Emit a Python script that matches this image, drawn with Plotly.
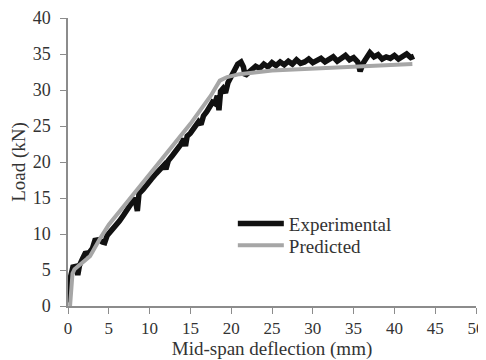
import plotly.graph_objects as go

exp_x = [0, 0.15, 0.3, 0.6, 1.0, 1.2, 1.4, 1.8, 2.1, 2.6, 3.0, 3.3, 3.8, 4.2, 4.5, 4.8, 5.2, 5.8, 6.3, 6.8, 7.3, 7.8, 8.2, 8.5, 8.7, 9.2, 9.7, 10.2, 10.8, 11.3, 11.8, 12.0, 12.3, 12.8, 13.3, 13.8, 14.2, 14.4, 14.6, 15.0, 15.5, 16.0, 16.3, 16.6, 17.0, 17.4, 17.7, 18.0, 18.3, 18.5, 18.7, 19.0, 19.3, 19.6, 20.0, 20.4, 20.8, 21.2, 21.5, 21.7, 22.0, 22.5, 23.0, 23.5, 24.0, 24.5, 25.0, 25.5, 26.0, 26.5, 27.0, 27.5, 28.0, 28.5, 29.0, 29.5, 30.0, 30.5, 31.0, 31.5, 32.0, 32.5, 33.0, 33.5, 34.0, 34.5, 35.0, 35.5, 35.8, 36.2, 36.5, 37.0, 37.5, 38.0, 38.5, 39.0, 39.5, 40.0, 40.5, 41.0, 41.5, 42.0, 42.4]
exp_y = [0.5, 2.5, 4.0, 5.4, 5.5, 4.3, 5.6, 6.6, 7.3, 7.4, 8.0, 9.1, 9.2, 8.9, 8.8, 9.8, 10.3, 11.1, 11.8, 12.6, 13.4, 14.5, 15.0, 13.2, 15.6, 16.2, 16.8, 17.6, 18.4, 19.1, 19.6, 19.0, 20.2, 20.9, 21.6, 22.4, 23.2, 22.2, 23.6, 24.0, 24.8, 25.6, 25.2, 26.4, 27.0, 27.8, 28.3, 28.1, 29.2, 27.2, 29.8, 30.2, 29.6, 31.0, 32.0, 32.8, 33.6, 33.9, 33.2, 32.0, 32.4, 32.8, 33.3, 33.0, 33.6, 33.2, 33.8, 33.4, 33.9, 33.5, 34.0, 33.6, 34.2, 33.7, 33.9, 34.3, 33.8, 34.0, 34.4, 33.9, 34.2, 34.6, 34.0, 34.4, 34.8, 34.2, 34.5, 33.9, 32.6, 33.8, 34.4, 35.2, 34.6, 34.9, 34.3, 34.6, 34.4, 34.8, 34.3, 34.7, 35.0, 34.5, 34.7]

pred_x = [0.25, 0.35, 0.55, 0.8, 1.2, 2.0, 2.7, 4.0, 5.0, 7.5, 10, 12.5, 15, 17.5, 18.6, 19.5, 21, 25, 30, 35, 42.2]
pred_y = [0, 2.5, 4.5, 5.1, 5.5, 6.2, 6.9, 9.5, 11.3, 14.8, 18.3, 21.8, 25.3, 29.2, 31.3, 31.8, 32.2, 32.7, 33.0, 33.3, 33.6]

x_ticks = [0, 5, 10, 15, 20, 25, 30, 35, 40, 45, 50]
y_ticks = [0, 5, 10, 15, 20, 25, 30, 35, 40]

fam = "Liberation Serif"
ytick_font = dict(family=fam, size=18, color="#333333")
xtick_font = dict(family=fam, size=17, color="#333333")
title_font = dict(family=fam, size=19, color="#333333")

fig = go.Figure()
fig.add_trace(go.Scatter(x=exp_x, y=exp_y, mode="lines", name="Experimental",
                         line=dict(color="#111111", width=5.5), legend="legend"))
fig.add_trace(go.Scatter(x=pred_x, y=pred_y, mode="lines", name="Predicted",
                         line=dict(color="#a6a6a6", width=4), legend="legend2"))

axis_common = dict(showgrid=False, zeroline=False, showline=True, linecolor="#8c8c8c",
                   linewidth=1.5, ticks="outside", ticklen=6, tickcolor="#8c8c8c",
                   title_font=title_font, automargin=False,
                   ticklabeloverflow="allow")

leg_common = dict(xanchor="left", yanchor="middle", bgcolor="rgba(0,0,0,0)",
                  font=title_font, itemwidth=46)

fig.update_layout(
    width=478, height=352,
    margin=dict(l=60, r=10, t=10, b=54),
    plot_bgcolor="white", paper_bgcolor="white",
    font=title_font,
    showlegend=True,
    legend=dict(x=0.404, y=0.286, **leg_common),
    legend2=dict(x=0.404, y=0.210, **leg_common),
    xaxis=dict(range=[0, 50], tickvals=x_ticks, ticklabelstandoff=0, tickfont=xtick_font,
               title=dict(text="Mid-span deflection (mm)", standoff=4), **axis_common),
    yaxis=dict(range=[0, 40], tickvals=y_ticks, ticklabelstandoff=6, tickfont=ytick_font,
               title=dict(text="Load (kN)", standoff=4), **axis_common),
)

fig.write_html("out.html")
